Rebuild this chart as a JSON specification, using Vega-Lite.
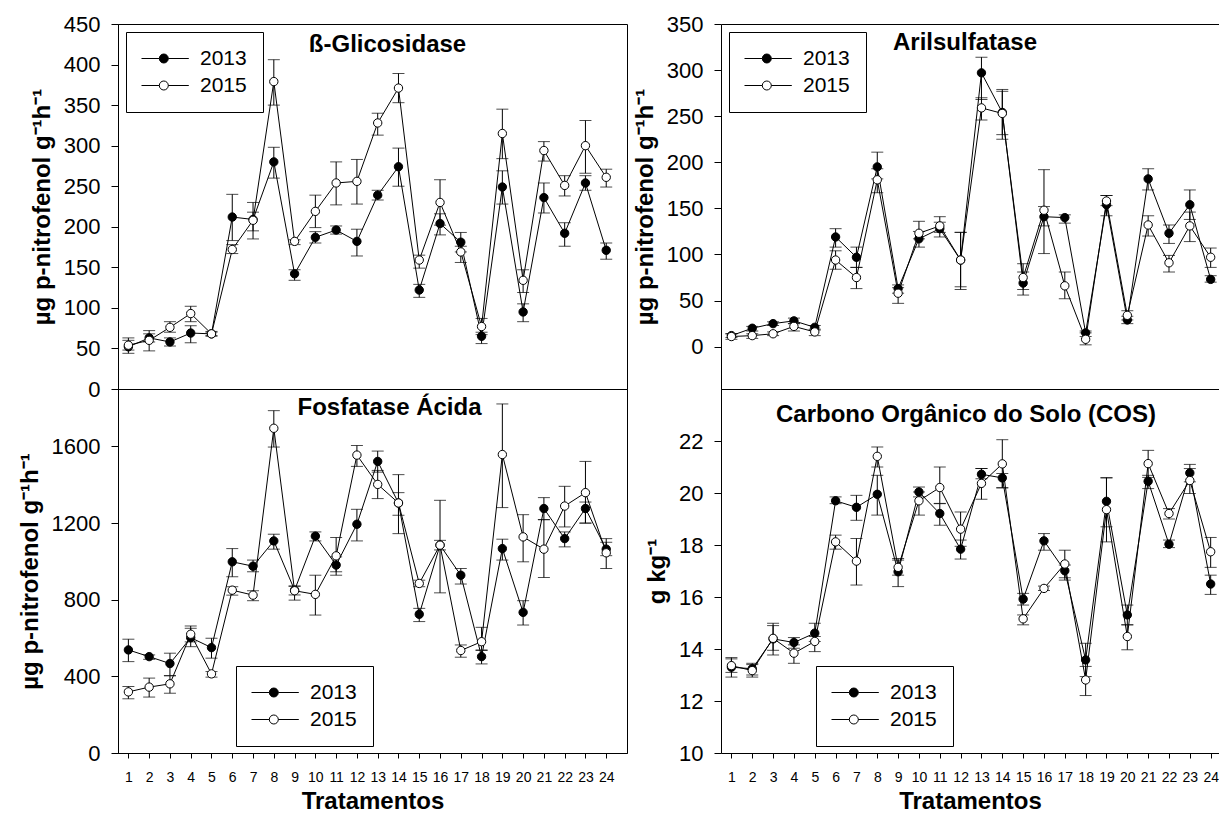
{
  "$schema": "https://vega.github.io/schema/vega-lite/v6.json",
  "padding": {"left": 17, "top": 12, "right": 0, "bottom": 0},
  "config": {
    "font": "Liberation Sans",
    "view": {"stroke": null},
    "axis": {"grid": false, "domainColor": "black", "tickColor": "black", "labelColor": "black", "titleColor": "black", "labelFont": "Liberation Sans", "titleFont": "Liberation Sans", "labelOverlap": false, "labelFlush": false, "domainWidth": 1, "tickWidth": 1, "labelAngle": 0, "format": "d"},
    "legend": {"orient": "none", "title": null, "strokeColor": "black", "fillColor": "white", "padding": 16, "rowPadding": 5, "labelFont": "Liberation Sans", "labelFontSize": 21, "labelColor": "black", "labelOffset": 37, "symbolType": "M-2.2,0L1.36,0M3.16,0L7.26,0M3.16,0A0.9,0.9,0,1,1,1.36,0A0.9,0.9,0,1,1,3.16,0Z", "symbolSize": 100, "symbolStrokeColor": "black", "symbolStrokeWidth": 1, "symbolOpacity": 1}
  },
  "datasets": {
    "glic": [
      {"t":1,"year":"2013","v":52,"lo":44,"hi":60},{"t":1,"year":"2015","v":54,"lo":48,"hi":63},
      {"t":2,"year":"2013","v":63,"lo":58,"hi":68},{"t":2,"year":"2015","v":60,"lo":47,"hi":72},
      {"t":3,"year":"2013","v":58,"lo":53,"hi":63},{"t":3,"year":"2015","v":76,"lo":70,"hi":83},
      {"t":4,"year":"2013","v":69,"lo":57,"hi":78},{"t":4,"year":"2015","v":93,"lo":83,"hi":102},
      {"t":5,"year":"2013","v":68,"lo":65,"hi":71},{"t":5,"year":"2015","v":68,"lo":66,"hi":70},
      {"t":6,"year":"2013","v":212,"lo":183,"hi":240},{"t":6,"year":"2015","v":172,"lo":167,"hi":178},
      {"t":7,"year":"2013","v":209,"lo":195,"hi":218},{"t":7,"year":"2015","v":208,"lo":185,"hi":230},
      {"t":8,"year":"2013","v":280,"lo":260,"hi":298},{"t":8,"year":"2015","v":379,"lo":350,"hi":406},
      {"t":9,"year":"2013","v":142,"lo":134,"hi":147},{"t":9,"year":"2015","v":182,"lo":178,"hi":184},
      {"t":10,"year":"2013","v":187,"lo":180,"hi":194},{"t":10,"year":"2015","v":219,"lo":199,"hi":239},
      {"t":11,"year":"2013","v":196,"lo":191,"hi":201},{"t":11,"year":"2015","v":254,"lo":227,"hi":280},
      {"t":12,"year":"2013","v":182,"lo":164,"hi":197},{"t":12,"year":"2015","v":256,"lo":228,"hi":283},
      {"t":13,"year":"2013","v":239,"lo":233,"hi":245},{"t":13,"year":"2015","v":328,"lo":313,"hi":340},
      {"t":14,"year":"2013","v":274,"lo":250,"hi":297},{"t":14,"year":"2015","v":371,"lo":353,"hi":389},
      {"t":15,"year":"2013","v":122,"lo":113,"hi":129},{"t":15,"year":"2015","v":159,"lo":149,"hi":165},
      {"t":16,"year":"2013","v":204,"lo":190,"hi":216},{"t":16,"year":"2015","v":230,"lo":202,"hi":258},
      {"t":17,"year":"2013","v":181,"lo":169,"hi":193},{"t":17,"year":"2015","v":169,"lo":156,"hi":176},
      {"t":18,"year":"2013","v":65,"lo":56,"hi":70},{"t":18,"year":"2015","v":77,"lo":67,"hi":87},
      {"t":19,"year":"2013","v":249,"lo":228,"hi":269},{"t":19,"year":"2015","v":315,"lo":284,"hi":345},
      {"t":20,"year":"2013","v":95,"lo":83,"hi":105},{"t":20,"year":"2015","v":134,"lo":119,"hi":147},
      {"t":21,"year":"2013","v":236,"lo":217,"hi":254},{"t":21,"year":"2015","v":294,"lo":281,"hi":305},
      {"t":22,"year":"2013","v":192,"lo":176,"hi":205},{"t":22,"year":"2015","v":251,"lo":238,"hi":263},
      {"t":23,"year":"2013","v":254,"lo":245,"hi":263},{"t":23,"year":"2015","v":300,"lo":266,"hi":331},
      {"t":24,"year":"2013","v":171,"lo":160,"hi":180},{"t":24,"year":"2015","v":261,"lo":249,"hi":271}
    ],
    "aril": [
      {"t":1,"year":"2013","v":12,"lo":10,"hi":14},{"t":1,"year":"2015","v":11,"lo":8,"hi":14},
      {"t":2,"year":"2013","v":20,"lo":17,"hi":22},{"t":2,"year":"2015","v":12,"lo":9,"hi":14},
      {"t":3,"year":"2013","v":25,"lo":23,"hi":27},{"t":3,"year":"2015","v":14,"lo":12,"hi":16},
      {"t":4,"year":"2013","v":28,"lo":25,"hi":31},{"t":4,"year":"2015","v":22,"lo":17,"hi":25},
      {"t":5,"year":"2013","v":21,"lo":18,"hi":23},{"t":5,"year":"2015","v":16,"lo":12,"hi":19},
      {"t":6,"year":"2013","v":119,"lo":108,"hi":128},{"t":6,"year":"2015","v":94,"lo":84,"hi":104},
      {"t":7,"year":"2013","v":97,"lo":86,"hi":108},{"t":7,"year":"2015","v":75,"lo":63,"hi":86},
      {"t":8,"year":"2013","v":195,"lo":182,"hi":211},{"t":8,"year":"2015","v":181,"lo":167,"hi":193},
      {"t":9,"year":"2013","v":63,"lo":58,"hi":67},{"t":9,"year":"2015","v":58,"lo":47,"hi":64},
      {"t":10,"year":"2013","v":117,"lo":108,"hi":125},{"t":10,"year":"2015","v":123,"lo":117,"hi":136},
      {"t":11,"year":"2013","v":128,"lo":119,"hi":135},{"t":11,"year":"2015","v":131,"lo":124,"hi":141},
      {"t":12,"year":"2013","v":94,"lo":62,"hi":124},{"t":12,"year":"2015","v":94,"lo":65,"hi":124},
      {"t":13,"year":"2013","v":297,"lo":268,"hi":314},{"t":13,"year":"2015","v":259,"lo":246,"hi":270},
      {"t":14,"year":"2013","v":254,"lo":230,"hi":279},{"t":14,"year":"2015","v":253,"lo":225,"hi":277},
      {"t":15,"year":"2013","v":69,"lo":56,"hi":81},{"t":15,"year":"2015","v":75,"lo":62,"hi":90},
      {"t":16,"year":"2013","v":141,"lo":131,"hi":152},{"t":16,"year":"2015","v":148,"lo":101,"hi":192},
      {"t":17,"year":"2013","v":140,"lo":134,"hi":143},{"t":17,"year":"2015","v":66,"lo":52,"hi":81},
      {"t":18,"year":"2013","v":15,"lo":11,"hi":17},{"t":18,"year":"2015","v":8,"lo":2,"hi":15},
      {"t":19,"year":"2013","v":154,"lo":142,"hi":164},{"t":19,"year":"2015","v":158,"lo":153,"hi":164},
      {"t":20,"year":"2013","v":29,"lo":25,"hi":33},{"t":20,"year":"2015","v":34,"lo":29,"hi":39},
      {"t":21,"year":"2013","v":182,"lo":170,"hi":193},{"t":21,"year":"2015","v":132,"lo":120,"hi":142},
      {"t":22,"year":"2013","v":123,"lo":112,"hi":132},{"t":22,"year":"2015","v":91,"lo":81,"hi":99},
      {"t":23,"year":"2013","v":154,"lo":138,"hi":170},{"t":23,"year":"2015","v":131,"lo":114,"hi":146},
      {"t":24,"year":"2013","v":73,"lo":70,"hi":77},{"t":24,"year":"2015","v":97,"lo":86,"hi":107}
    ],
    "fosf": [
      {"t":1,"year":"2013","v":538,"lo":477,"hi":594},{"t":1,"year":"2015","v":319,"lo":283,"hi":347},
      {"t":2,"year":"2013","v":503,"lo":489,"hi":512},{"t":2,"year":"2015","v":344,"lo":292,"hi":391},
      {"t":3,"year":"2013","v":467,"lo":404,"hi":521},{"t":3,"year":"2015","v":361,"lo":312,"hi":403},
      {"t":4,"year":"2013","v":602,"lo":555,"hi":651},{"t":4,"year":"2015","v":620,"lo":580,"hi":663},
      {"t":5,"year":"2013","v":550,"lo":495,"hi":599},{"t":5,"year":"2015","v":413,"lo":396,"hi":425},
      {"t":6,"year":"2013","v":998,"lo":920,"hi":1067},{"t":6,"year":"2015","v":850,"lo":824,"hi":868},
      {"t":7,"year":"2013","v":975,"lo":946,"hi":1007},{"t":7,"year":"2015","v":824,"lo":795,"hi":847},
      {"t":8,"year":"2013","v":1107,"lo":1064,"hi":1142},{"t":8,"year":"2015","v":1695,"lo":1597,"hi":1787},
      {"t":9,"year":"2013","v":850,"lo":798,"hi":871},{"t":9,"year":"2015","v":847,"lo":825,"hi":871},
      {"t":10,"year":"2013","v":1132,"lo":1107,"hi":1154},{"t":10,"year":"2015","v":828,"lo":720,"hi":928},
      {"t":11,"year":"2013","v":981,"lo":928,"hi":1024},{"t":11,"year":"2015","v":1029,"lo":946,"hi":1125},
      {"t":12,"year":"2013","v":1194,"lo":1107,"hi":1272},{"t":12,"year":"2015","v":1555,"lo":1496,"hi":1605},
      {"t":13,"year":"2013","v":1522,"lo":1466,"hi":1576},{"t":13,"year":"2015","v":1402,"lo":1328,"hi":1475},
      {"t":14,"year":"2013","v":1305,"lo":1241,"hi":1359},{"t":14,"year":"2015","v":1305,"lo":1145,"hi":1453},
      {"t":15,"year":"2013","v":724,"lo":686,"hi":755},{"t":15,"year":"2015","v":885,"lo":868,"hi":902},
      {"t":16,"year":"2013","v":1085,"lo":1060,"hi":1110},{"t":16,"year":"2015","v":1085,"lo":836,"hi":1319},
      {"t":17,"year":"2013","v":928,"lo":882,"hi":963},{"t":17,"year":"2015","v":535,"lo":500,"hi":564},
      {"t":18,"year":"2013","v":503,"lo":465,"hi":535},{"t":18,"year":"2015","v":581,"lo":538,"hi":656},
      {"t":19,"year":"2013","v":1067,"lo":1007,"hi":1116},{"t":19,"year":"2015","v":1558,"lo":1281,"hi":1822},
      {"t":20,"year":"2013","v":734,"lo":668,"hi":795},{"t":20,"year":"2015","v":1128,"lo":998,"hi":1244},
      {"t":21,"year":"2013","v":1276,"lo":1218,"hi":1333},{"t":21,"year":"2015","v":1064,"lo":916,"hi":1218},
      {"t":22,"year":"2013","v":1119,"lo":1076,"hi":1154},{"t":22,"year":"2015","v":1289,"lo":1180,"hi":1392},
      {"t":23,"year":"2013","v":1276,"lo":1200,"hi":1310},{"t":23,"year":"2015","v":1359,"lo":1200,"hi":1522},
      {"t":24,"year":"2013","v":1064,"lo":1030,"hi":1100},{"t":24,"year":"2015","v":1045,"lo":963,"hi":1119}
    ],
    "cos": [
      {"t":1,"year":"2013","v":13.30,"lo":12.92,"hi":13.67},{"t":1,"year":"2015","v":13.36,"lo":13.10,"hi":13.62},
      {"t":2,"year":"2013","v":13.24,"lo":13.00,"hi":13.45},{"t":2,"year":"2015","v":13.17,"lo":12.92,"hi":13.40},
      {"t":3,"year":"2013","v":14.39,"lo":13.77,"hi":14.99},{"t":3,"year":"2015","v":14.41,"lo":13.95,"hi":14.90},
      {"t":4,"year":"2013","v":14.25,"lo":14.03,"hi":14.44},{"t":4,"year":"2015","v":13.84,"lo":13.45,"hi":14.16},
      {"t":5,"year":"2013","v":14.61,"lo":14.29,"hi":14.99},{"t":5,"year":"2015","v":14.29,"lo":13.90,"hi":14.48},
      {"t":6,"year":"2013","v":19.70,"lo":19.59,"hi":19.85},{"t":6,"year":"2015","v":18.12,"lo":17.84,"hi":18.38},
      {"t":7,"year":"2013","v":19.45,"lo":18.95,"hi":19.91},{"t":7,"year":"2015","v":17.38,"lo":16.46,"hi":18.25},
      {"t":8,"year":"2013","v":19.95,"lo":19.15,"hi":20.68},{"t":8,"year":"2015","v":21.41,"lo":21.00,"hi":21.77},
      {"t":9,"year":"2013","v":16.97,"lo":16.40,"hi":17.48},{"t":9,"year":"2015","v":17.14,"lo":16.84,"hi":17.42},
      {"t":10,"year":"2013","v":20.04,"lo":19.85,"hi":20.23},{"t":10,"year":"2015","v":19.70,"lo":19.15,"hi":20.04},
      {"t":11,"year":"2013","v":19.21,"lo":18.76,"hi":19.59},{"t":11,"year":"2015","v":20.21,"lo":19.60,"hi":21.00},
      {"t":12,"year":"2013","v":17.84,"lo":17.46,"hi":18.19},{"t":12,"year":"2015","v":18.61,"lo":17.95,"hi":19.27},
      {"t":13,"year":"2013","v":20.72,"lo":20.55,"hi":20.94},{"t":13,"year":"2015","v":20.37,"lo":19.76,"hi":20.94},
      {"t":14,"year":"2013","v":20.58,"lo":20.20,"hi":20.75},{"t":14,"year":"2015","v":21.12,"lo":20.20,"hi":22.05},
      {"t":15,"year":"2013","v":15.92,"lo":15.69,"hi":16.14},{"t":15,"year":"2015","v":15.16,"lo":14.93,"hi":15.31},
      {"t":16,"year":"2013","v":18.16,"lo":17.80,"hi":18.44},{"t":16,"year":"2015","v":16.33,"lo":16.25,"hi":16.42},
      {"t":17,"year":"2013","v":17.01,"lo":16.65,"hi":17.23},{"t":17,"year":"2015","v":17.27,"lo":16.74,"hi":17.80},
      {"t":18,"year":"2013","v":13.58,"lo":12.94,"hi":14.22},{"t":18,"year":"2015","v":12.81,"lo":12.21,"hi":13.33},
      {"t":19,"year":"2013","v":19.68,"lo":18.70,"hi":20.59},{"t":19,"year":"2015","v":19.36,"lo":18.12,"hi":20.58},
      {"t":20,"year":"2013","v":15.31,"lo":14.93,"hi":15.69},{"t":20,"year":"2015","v":14.48,"lo":13.97,"hi":14.93},
      {"t":21,"year":"2013","v":20.45,"lo":20.17,"hi":20.68},{"t":21,"year":"2015","v":21.13,"lo":20.60,"hi":21.64},
      {"t":22,"year":"2013","v":18.03,"lo":17.90,"hi":18.19},{"t":22,"year":"2015","v":19.21,"lo":19.00,"hi":19.40},
      {"t":23,"year":"2013","v":20.77,"lo":20.43,"hi":21.10},{"t":23,"year":"2015","v":20.48,"lo":19.98,"hi":20.94},
      {"t":24,"year":"2013","v":16.50,"lo":16.10,"hi":16.84},{"t":24,"year":"2015","v":17.74,"lo":17.14,"hi":18.29}
    ]
  },
  "columns": 2,
  "bounds": "flush",
  "align": "each",
  "spacing": {"row": 0, "column": 94},
  "resolve": {"scale": {"fill": "independent"}, "legend": {"fill": "independent"}},
  "concat": [
    {
      "width": 509, "height": 365,
      "view": {"stroke": "black", "strokeWidth": 1},
      "data": {"name": "glic"},
      "title": {"text": "ß-Glicosidase", "frame": "group", "anchor": "middle", "offset": 0, "baseline": "alphabetic", "dx": 15, "dy": 63.1, "fontSize": 24, "fontWeight": "bold", "font": "Liberation Sans", "color": "black"},
      "encoding": {
        "x": {"field": "t", "type": "quantitative", "scale": {"domain": [0.5, 25], "nice": false, "zero": false}, "axis": null},
        "y": {"field": "v", "type": "quantitative", "scale": {"domain": [0, 450], "nice": false, "zero": false},
          "axis": {"values": [0,50,100,150,200,250,300,350,400,450], "tickSize": 7, "labelPadding": 11, "labelFontSize": 22, "title": "µg p-nitrofenol g⁻¹h⁻¹", "titleFontSize": 24, "titleFontWeight": "bold", "titlePadding": 9}}
      },
      "layer": [
        {"mark": {"type": "line", "color": "black", "strokeWidth": 1},
         "encoding": {"detail": {"field": "year"}}},
        {"mark": {"type": "errorbar", "ticks": {"size": 12}, "color": "black", "thickness": 1},
         "encoding": {"y": {"field": "lo", "type": "quantitative"}, "y2": {"field": "hi"}, "detail": {"field": "year"}}},
        {"mark": {"type": "point", "shape": "circle", "size": 70, "filled": true, "stroke": "black", "strokeWidth": 1, "opacity": 1},
         "encoding": {"fill": {"field": "year", "type": "nominal", "scale": {"domain": ["2013", "2015"], "range": ["#000000", "#ffffff"]}, "legend": {"legendX": 8, "legendY": 8}}}}
      ]
    },
    {
      "width": 498, "height": 365,
      "data": {"name": "aril"},
      "title": {"text": "Arilsulfatase", "frame": "group", "anchor": "middle", "offset": 0, "baseline": "alphabetic", "dx": -5, "dy": 61.4, "fontSize": 24, "fontWeight": "bold", "font": "Liberation Sans", "color": "black"},
      "resolve": {"axis": {"x": "independent"}},
      "encoding": {
        "y": {"field": "v", "type": "quantitative", "scale": {"domain": [-45.9, 350], "nice": false, "zero": false},
          "axis": {"values": [0,50,100,150,200,250,300,350], "tickSize": 7, "labelPadding": 11, "labelFontSize": 22, "title": "µg p-nitrofenol g⁻¹h⁻¹", "titleFontSize": 24, "titleFontWeight": "bold", "titlePadding": 9}}
      },
      "layer": [
        {"mark": {"type": "line", "color": "black", "strokeWidth": 1},
         "encoding": {
           "x": {"field": "t", "type": "quantitative", "scale": {"domain": [0.5, 24.4], "nice": false, "zero": false},
             "axis": {"orient": "bottom", "ticks": false, "labels": false, "title": null, "domain": true}},
           "detail": {"field": "year"}}},
        {"mark": {"type": "errorbar", "ticks": {"size": 12}, "color": "black", "thickness": 1},
         "encoding": {"x": {"field": "t", "type": "quantitative", "axis": null}, "y": {"field": "lo", "type": "quantitative"}, "y2": {"field": "hi"}, "detail": {"field": "year"}}},
        {"mark": {"type": "point", "shape": "circle", "size": 70, "filled": true, "stroke": "black", "strokeWidth": 1, "opacity": 1},
         "encoding": {
           "x": {"field": "t", "type": "quantitative", "axis": {"orient": "top", "ticks": false, "labels": false, "title": null, "domain": true}},
           "fill": {"field": "year", "type": "nominal", "scale": {"domain": ["2013", "2015"], "range": ["#000000", "#ffffff"]}, "legend": {"legendX": 8, "legendY": 8}}}}
      ]
    },
    {
      "width": 509, "height": 364,
      "view": {"stroke": "black", "strokeWidth": 1},
      "data": {"name": "fosf"},
      "title": {"text": "Fosfatase Ácida", "frame": "group", "anchor": "middle", "offset": 0, "baseline": "alphabetic", "dx": 17, "dy": 50.4, "fontSize": 24, "fontWeight": "bold", "font": "Liberation Sans", "color": "black"},
      "encoding": {
        "x": {"field": "t", "type": "quantitative", "scale": {"domain": [0.5, 25], "nice": false, "zero": false},
          "axis": {"values": [1,2,3,4,5,6,7,8,9,10,11,12,13,14,15,16,17,18,19,20,21,22,23,24], "tickSize": 5, "labelPadding": 12, "labelFontSize": 14, "title": "Tratamentos", "titleFontSize": 24, "titleFontWeight": "bold", "titlePadding": 5}},
        "y": {"field": "v", "type": "quantitative", "scale": {"domain": [0, 1900], "nice": false, "zero": false},
          "axis": {"values": [0,400,800,1200,1600], "tickSize": 7, "labelPadding": 11, "labelFontSize": 22, "title": "µg p-nitrofenol g⁻¹h⁻¹", "titleFontSize": 24, "titleFontWeight": "bold", "titlePadding": 9}}
      },
      "layer": [
        {"mark": {"type": "line", "color": "black", "strokeWidth": 1},
         "encoding": {"detail": {"field": "year"}}},
        {"mark": {"type": "errorbar", "ticks": {"size": 12}, "color": "black", "thickness": 1},
         "encoding": {"y": {"field": "lo", "type": "quantitative"}, "y2": {"field": "hi"}, "detail": {"field": "year"}}},
        {"mark": {"type": "point", "shape": "circle", "size": 70, "filled": true, "stroke": "black", "strokeWidth": 1, "opacity": 1},
         "encoding": {"fill": {"field": "year", "type": "nominal", "scale": {"domain": ["2013", "2015"], "range": ["#000000", "#ffffff"]}, "legend": {"legendX": 118, "legendY": 277}}}}
      ]
    },
    {
      "width": 498, "height": 364,
      "data": {"name": "cos"},
      "title": {"text": "Carbono Orgânico do Solo (COS)", "frame": "group", "anchor": "middle", "offset": 0, "baseline": "alphabetic", "dx": -4, "dy": 57, "fontSize": 24, "fontWeight": "bold", "font": "Liberation Sans", "color": "black"},
      "resolve": {"axis": {"x": "independent"}},
      "encoding": {
        "y": {"field": "v", "type": "quantitative", "scale": {"domain": [10, 24], "nice": false, "zero": false},
          "axis": {"values": [10,12,14,16,18,20,22], "tickSize": 7, "labelPadding": 11, "labelFontSize": 22, "title": "g kg⁻¹", "titleFontSize": 24, "titleFontWeight": "bold", "titlePadding": 9}}
      },
      "layer": [
        {"mark": {"type": "line", "color": "black", "strokeWidth": 1},
         "encoding": {
           "x": {"field": "t", "type": "quantitative", "scale": {"domain": [0.5, 24.4], "nice": false, "zero": false},
             "axis": {"orient": "bottom", "values": [1,2,3,4,5,6,7,8,9,10,11,12,13,14,15,16,17,18,19,20,21,22,23,24], "tickSize": 5, "labelPadding": 12, "labelFontSize": 14, "title": "Tratamentos", "titleFontSize": 24, "titleFontWeight": "bold", "titlePadding": 5}},
           "detail": {"field": "year"}}},
        {"mark": {"type": "errorbar", "ticks": {"size": 12}, "color": "black", "thickness": 1},
         "encoding": {"x": {"field": "t", "type": "quantitative", "axis": null}, "y": {"field": "lo", "type": "quantitative"}, "y2": {"field": "hi"}, "detail": {"field": "year"}}},
        {"mark": {"type": "point", "shape": "circle", "size": 70, "filled": true, "stroke": "black", "strokeWidth": 1, "opacity": 1},
         "encoding": {
           "x": {"field": "t", "type": "quantitative", "axis": {"orient": "top", "ticks": false, "labels": false, "title": null, "domain": true}},
           "fill": {"field": "year", "type": "nominal", "scale": {"domain": ["2013", "2015"], "range": ["#000000", "#ffffff"]}, "legend": {"legendX": 95, "legendY": 277}}}}
      ]
    }
  ]
}
